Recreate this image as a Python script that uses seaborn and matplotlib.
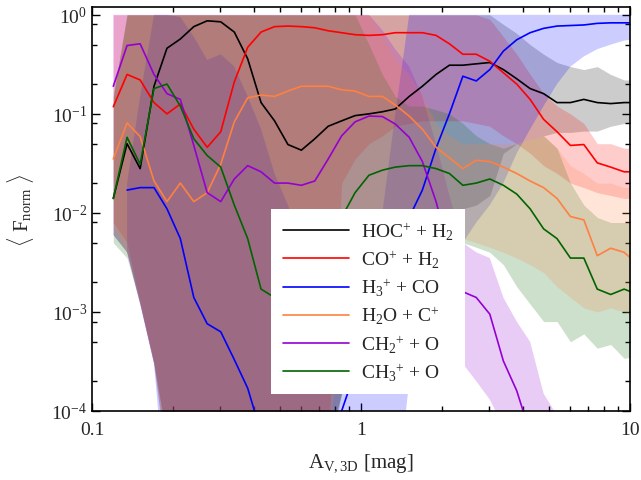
# importa bibliotecas
import numpy as np
import seaborn as sns
import matplotlib.pyplot as plt
from matplotlib.ticker import LogLocator, NullFormatter

nan = np.nan

# grade em A_V (mag)
av = [0.120, 0.135, 0.151, 0.170, 0.190, 0.213, 0.239, 0.268, 0.301, 0.338,
      0.379, 0.425, 0.477, 0.535, 0.600, 0.673, 0.755, 0.847, 0.950, 1.07,
      1.20, 1.34, 1.51, 1.69, 1.90, 2.13, 2.39, 2.68, 3.01, 3.38,
      3.79, 4.25, 4.77, 5.35, 6.00, 6.73, 7.55, 8.47, 9.50, 10.7]

# medianas
hoc = [0.014, 0.050, 0.028, 0.19, 0.46, 0.57, 0.76, 0.87, 0.85, 0.67,
       0.36, 0.13, 0.085, 0.049, 0.043, 0.056, 0.075, 0.085, 0.096, 0.10,
       0.105, 0.112, 0.15, 0.19, 0.25, 0.31, 0.31, 0.32, 0.33, 0.28,
       0.226, 0.18, 0.16, 0.13, 0.13, 0.14, 0.13, 0.127, 0.13, 0.13]
co = [0.118, 0.25, 0.22, 0.13, 0.10, 0.126, 0.07, 0.046, 0.066, 0.21,
      0.47, 0.67, 0.76, 0.77, 0.76, 0.74, 0.69, 0.66, 0.63, 0.62,
      0.63, 0.66, 0.66, 0.66, 0.62, 0.51, 0.40, 0.40, 0.34, 0.26,
      0.20, 0.14, 0.088, 0.066, 0.048, 0.049, 0.032, 0.029, 0.026, 0.026]
h3 = [nan, 0.017, 0.018, 0.018, 0.011, 0.0055, 0.0014, 0.00076, 0.00063, 0.00033,
      0.00017, 6e-5, 3e-5, 2e-5, 1.5e-5, 1.5e-5, 3e-5, 1e-4, 0.00025, 0.0006,
      0.0015, 0.004, 0.009, 0.017, 0.045, 0.10, 0.24, 0.215, 0.28, 0.43,
      0.56, 0.66, 0.73, 0.77, 0.78, 0.79, 0.82, 0.83, 0.83, 0.83]
h2o = [0.035, 0.081, 0.059, 0.021, 0.013, 0.020, 0.013, 0.016, 0.031, 0.083,
       0.145, 0.155, 0.15, 0.17, 0.19, 0.19, 0.19, 0.175, 0.17, 0.15,
       0.15, 0.123, 0.095, 0.07, 0.046, 0.036, 0.028, 0.034, 0.033, 0.029,
       0.025, 0.021, 0.018, 0.014, 0.0092, 0.0085, 0.0037, 0.0044, 0.0040, 0.0030]
ch2 = [0.19, 0.49, 0.51, 0.25, 0.16, 0.14, 0.048, 0.016, 0.013, 0.022,
       0.030, 0.026, 0.020, 0.020, 0.019, 0.021, 0.035, 0.06, 0.083, 0.095,
       0.094, 0.079, 0.058, 0.033, 0.013, 0.004, 0.0016, 0.0014, 0.00095, 0.00032,
       0.00016, 6e-5, 3e-5, 2e-5, 1.5e-5, 1e-5, 1e-5, 1e-5, 1e-5, 1e-5]
ch3 = [0.014, 0.058, 0.031, 0.18, 0.20, 0.12, 0.056, 0.038, 0.029, 0.012,
       0.0055, 0.0017, 0.0014, 0.0015, 0.002, 0.003, 0.005, 0.009, 0.016, 0.024,
       0.027, 0.029, 0.030, 0.030, 0.028, 0.025, 0.019, 0.020, 0.022, 0.019,
       0.0155, 0.011, 0.0069, 0.0055, 0.0035, 0.0035, 0.0017, 0.0015, 0.0017, 0.0015]

# faixas (min / max)
hoc_lo = [0.006, 0.004, 0.0012, 3e-4, 5e-5, 5e-5, 5e-5, 5e-5, 5e-5, 5e-5,
          5e-5, 5e-5, 5e-5, 5e-5, 5e-5, 5e-5, 5e-5, 1.5e-4, 3e-4, 5e-4,
          0.001, 0.002, 0.004, 0.006, 0.008, 0.01, 0.011, 0.012, 0.015, 0.04,
          0.05, 0.055, 0.06, 0.065, 0.065, 0.067, 0.067, 0.075, 0.08, 0.085]
hoc_hi = [0.15, 1.0, 1.0, 1.0, 1.0, 1.0, 1.0, 1.0, 1.0, 1.0,
          1.0, 1.0, 1.0, 1.0, 1.0, 1.0, 1.0, 1.0, 1.0, 1.0,
          1.0, 1.0, 1.0, 1.0, 1.0, 1.0, 1.0, 1.0, 1.0, 0.8,
          0.65, 0.5, 0.4, 0.33, 0.3, 0.28, 0.3, 0.25, 0.22, 0.22]
co_lo = [0.008, 0.005, 0.0012, 3e-4, 5e-5, 5e-5, 5e-5, 5e-5, 5e-5, 5e-5,
         5e-5, 5e-5, 5e-5, 5e-5, 5e-5, 5e-5, 5e-5, 0.02, 0.035, 0.05,
         0.06, 0.075, 0.08, 0.085, 0.085, 0.085, 0.085, 0.08, 0.075, 0.06,
         0.05, 0.04, 0.03, 0.025, 0.02, 0.018, 0.016, 0.015, 0.014, 0.014]
co_hi = [1.0, 1.0, 1.0, 1.0, 1.0, 1.0, 1.0, 1.0, 1.0, 1.0,
         1.0, 1.0, 1.0, 1.0, 1.0, 1.0, 1.0, 1.0, 1.0, 1.0,
         1.0, 1.0, 1.0, 1.0, 1.0, 1.0, 1.0, 1.0, 0.9, 0.6,
         0.4, 0.25, 0.16, 0.12, 0.1, 0.08, 0.05, 0.05, 0.045, 0.045]
h3_lo = [nan, 0.004, 0.0012, 3e-4, 1e-5, 1e-5, 1e-5, 1e-5, 1e-5, 1e-5,
         1e-5, 1e-5, 1e-5, 1e-5, 1e-5, 1e-5, 1e-5, 1e-5, 1e-5, 1e-5,
         1e-5, 1e-5, 2e-4, 5e-4, 0.002, 0.004, 0.005, 0.008, 0.012, 0.02,
         0.04, 0.07, 0.12, 0.2, 0.3, 0.38, 0.45, 0.5, 0.55, 0.57]
h3_hi = [nan, 0.02, 0.15, 1.0, 1.0, 0.95, 0.6, 0.35, 0.4, 0.3,
         0.15, 0.07, 0.025, 0.012, 0.005, 0.002, 0.001, 0.0008, 0.001, 0.003,
         0.01, 0.1, 1.0, 1.0, 1.0, 1.0, 1.0, 1.0, 1.0, 1.0,
         1.0, 1.0, 1.0, 1.0, 1.0, 1.0, 1.0, 1.0, 1.0, 1.0]
h2o_lo = [0.007, 0.004, 0.0012, 3e-4, 3e-5, 3e-5, 3e-5, 3e-5, 3e-5, 3e-5,
          3e-5, 3e-5, 3e-5, 3e-5, 3e-5, 3e-5, 3e-5, 0.002, 0.004, 0.005,
          0.006, 0.007, 0.007, 0.007, 0.006, 0.006, 0.0055, 0.005, 0.0045, 0.004,
          0.0035, 0.003, 0.0025, 0.0018, 0.0014, 0.0011, 0.001, 0.0011, 0.001, 0.00095]
h2o_hi = [0.15, 1.0, 1.0, 1.0, 1.0, 1.0, 1.0, 1.0, 1.0, 1.0,
          1.0, 1.0, 1.0, 1.0, 1.0, 1.0, 1.0, 1.0, 1.0, 1.0,
          0.6, 0.35, 0.25, 0.15, 0.08, 0.06, 0.05, 0.05, 0.05, 0.05,
          0.05, 0.055, 0.06, 0.045, 0.03, 0.025, 0.02, 0.02, 0.018, 0.018]
ch2_lo = [0.006, 0.004, 0.0012, 3e-4, 3e-5, 3e-5, 3e-5, 3e-5, 3e-5, 3e-5,
          3e-5, 3e-5, 3e-5, 3e-5, 3e-5, 3e-5, 3e-5, 1.5e-4, 2e-4, 3e-4,
          4e-4, 5e-4, 5e-4, 5e-4, 5e-4, 4e-4, 3e-4, 2e-4, 1.3e-4, 7e-5,
          4e-5, 5e-6, 5e-6, 5e-6, 5e-6, 5e-6, 5e-6, 5e-6, 5e-6, 5e-6]
ch2_hi = [1.0, 1.0, 1.0, 1.0, 1.0, 1.0, 1.0, 1.0, 1.0, 1.0,
          1.0, 1.0, 1.0, 1.0, 1.0, 1.0, 1.0, 1.0, 1.0, 1.0,
          0.7, 0.45, 0.3, 0.15, 0.05, 0.015, 0.005, 0.004, 0.0035, 0.0014,
          0.0008, 0.0005, 0.00015, 9e-5, 5e-5, 3e-5, 2e-5, 2e-5, 2e-5, 2e-5]
ch3_lo = [0.005, 0.0035, 0.0012, 3e-4, 3e-5, 3e-5, 3e-5, 3e-5, 3e-5, 3e-5,
          3e-5, 3e-5, 3e-5, 3e-5, 3e-5, 3e-5, 3e-5, 1.5e-4, 3e-4, 0.001,
          0.002, 0.003, 0.004, 0.005, 0.005, 0.005, 0.005, 0.0045, 0.004, 0.003,
          0.0018, 0.0012, 0.0008, 0.0008, 0.0005, 0.0006, 0.00043, 0.00047, 0.00034, 0.00036]
ch3_hi = [0.15, 1.0, 1.0, 1.0, 1.0, 1.0, 1.0, 1.0, 1.0, 1.0,
          1.0, 1.0, 1.0, 1.0, 1.0, 1.0, 1.0, 1.0, 1.0, 0.5,
          0.25, 0.15, 0.12, 0.12, 0.11, 0.1, 0.08, 0.06, 0.05, 0.045,
          0.05, 0.055, 0.06, 0.045, 0.02, 0.012, 0.009, 0.008, 0.008, 0.008]

labels = [r"HOC$^{+}$ + H$_{2}$", r"CO$^{+}$ + H$_{2}$", r"H$_{3}$$^{+}$ + CO",
          r"H$_{2}$O + C$^{+}$", r"CH$_{2}$$^{+}$ + O", r"CH$_{3}$$^{+}$ + O"]
cores = ["#000000", "#ff0000", "#0000ff", "#ff8040", "#9400d3", "#006400"]
medianas = [hoc, co, h3, h2o, ch2, ch3]
faixas = [(hoc_lo, hoc_hi), (co_lo, co_hi), (h3_lo, h3_hi),
          (h2o_lo, h2o_hi), (ch2_lo, ch2_hi), (ch3_lo, ch3_hi)]

# estilo
sns.set_style("ticks")
plt.rcParams["font.family"] = ["Liberation Serif", "DejaVu Serif"]
plt.rcParams["mathtext.fontset"] = "custom"
plt.rcParams["mathtext.rm"] = "Liberation Serif"
plt.rcParams["mathtext.it"] = "Liberation Serif:italic"
plt.rcParams["mathtext.bf"] = "Liberation Serif:bold"

fig = plt.figure(figsize=(6.41, 4.81), dpi=100)
ax = fig.add_axes([0.1435, 0.1435, 0.8395, 0.8399])
ax.set_xscale("log")
ax.set_yscale("log")

# faixas sombreadas (laranja por ultimo)
for i in [0, 1, 2, 4, 5, 3]:
    lo, hi = faixas[i]
    ax.fill_between(av, np.array(lo), np.array(hi), color=cores[i], alpha=0.2, lw=0)

# linhas
for y, c, lab in zip(medianas, cores, labels):
    sns.lineplot(x=av, y=np.array(y), color=c, label=lab, ax=ax,
                 lw=1.2, estimator=None, sort=False)

ax.set_xlim(0.1, 10)
ax.set_ylim(1e-4, 1.2)

ax.set_xticks([0.1, 1, 10])
ax.set_xticklabels(["0.1", "1", "10"])
ax.xaxis.set_minor_locator(LogLocator(base=10, subs=range(2, 10)))
ax.xaxis.set_minor_formatter(NullFormatter())
ax.set_yticks([1e-4, 1e-3, 1e-2, 1e-1, 1])
ax.set_yticklabels([r"10$^{-4}$", r"10$^{-3}$", r"10$^{-2}$", r"10$^{-1}$", r"10$^{0}$"])
ax.yaxis.set_minor_locator(LogLocator(base=10, subs=[2, 5, 8]))
ax.yaxis.set_minor_formatter(NullFormatter())

ax.tick_params(which="both", direction="in", top=True, right=True,
               color="black", labelsize=14)
ax.tick_params(which="major", length=6, width=1)
ax.tick_params(which="minor", length=3.5, width=1)
ax.tick_params(axis="x", which="major", pad=7)
for s in ax.spines.values():
    s.set_color("black")
    s.set_linewidth(1.2)

ax.set_xlabel(r"A$_{\rm V,3D}$ [mag]", fontsize=15, labelpad=10)
ax.set_ylabel(r"$\langle$ F$_{\rm norm}$ $\rangle$", fontsize=15, labelpad=11)

ax.legend(loc="center", bbox_to_anchor=(0.513, 0.271), fontsize=14,
          frameon=True, fancybox=False, edgecolor="none", framealpha=1,
          handlelength=3.4, handletextpad=0.6, labelspacing=0.35, borderpad=0.6)

fig.savefig("out.png", dpi=100)
